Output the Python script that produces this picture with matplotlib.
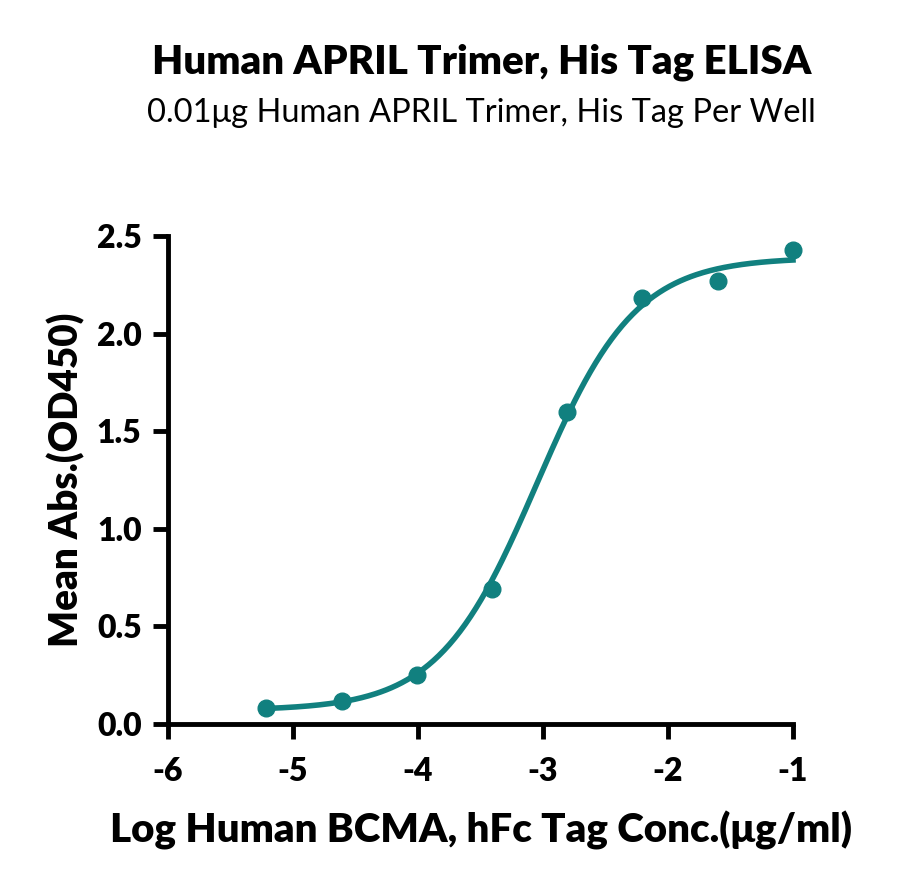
import numpy as np
import matplotlib
matplotlib.use("Agg")
import matplotlib.pyplot as plt

# log10 concentration (ug/ml) and mean OD450
log_conc = [-5.214, -4.612, -4.010, -3.408, -2.806, -2.204, -1.602, -1.0]
mean_abs = [0.08, 0.12, 0.25, 0.69, 1.60, 2.18, 2.27, 2.43]

# 4PL fit parameters
bottom, top, log_ec50, hill = 0.07, 2.39, -3.05, 1.1

teal = '#11807f'

plt.rcParams['font.family'] = ['Lato', 'DejaVu Sans']

fig = plt.figure(figsize=(9, 8.88), dpi=100)
ax = fig.add_axes([0.1867, 0.1847, 0.6944, 0.5495])

xs = np.linspace(log_conc[0], log_conc[-1], 300)
ys = bottom + (top - bottom) / (1 + 10 ** ((log_ec50 - xs) * hill))
ax.plot(xs, ys, color=teal, lw=4, zorder=3, clip_on=False)
ax.plot(log_conc, mean_abs, 'o', color=teal, ms=12, zorder=4, clip_on=False)

ax.set_xlim(-6, -1)
ax.set_ylim(0, 2.5)
ax.set_xticks([-6, -5, -4, -3, -2, -1])
ax.set_xticklabels(['-6', '-5', '-4', '-3', '-2', '-1'])
ax.set_yticks([0, 0.5, 1.0, 1.5, 2.0, 2.5])
ax.set_yticklabels(['0.0', '0.5', '1.0', '1.5', '2.0', '2.5'])

for s in ['top', 'right']:
    ax.spines[s].set_visible(False)
for s in ['left', 'bottom']:
    ax.spines[s].set_linewidth(3.5)
ax.tick_params(width=3.5, length=11, labelsize=23)
ax.tick_params(axis='x', pad=13)
ax.tick_params(axis='y', pad=8)
for lab in ax.get_xticklabels() + ax.get_yticklabels():
    lab.set_fontweight('heavy')

ax.set_xlabel('Log Human BCMA, hFc Tag Conc.(\u03bcg/ml)', fontsize=29,
              fontweight='heavy', labelpad=18)
ax.set_ylabel('Mean Abs.(OD450)', fontsize=27.8, fontweight='heavy', labelpad=8)

fig.text(0.535, 0.93, 'Human APRIL Trimer, His Tag ELISA', ha='center',
         va='center', fontsize=29, fontweight='heavy')
fig.text(0.535, 0.873, '0.01\u03bcg Human APRIL Trimer, His Tag Per Well',
         ha='center', va='center', fontsize=23.5)

fig.savefig('out.png', dpi=100)
